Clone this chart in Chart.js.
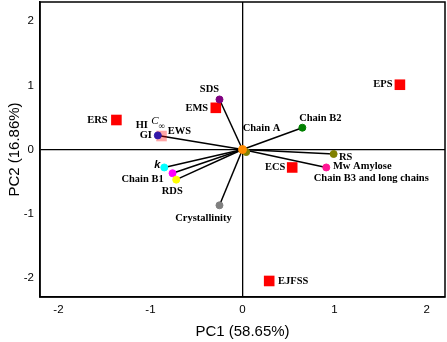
<!DOCTYPE html>
<html>
<head>
<meta charset="utf-8">
<script src="https://cdn.jsdelivr.net/npm/chart.js@4.4.1/dist/chart.umd.min.js"></script>
<style>
  body { margin: 0; background: #fff; }
  #pca { display: block; }
</style>
</head>
<body>
<canvas id="pca" width="447" height="342"></canvas>
<script>
// sample scores (squares)
const scoreNames = ['EPS', 'ERS', 'EMS', 'EWS', 'ECS', 'EJFSS'];
const scoreX = [1.71, -1.37, -0.29, -0.88, 0.54, 0.29];
const scoreY = [1.01, 0.46, 0.65, 0.21, -0.28, -2.05];

// variable loadings (circles, joined to origin)
const loadingNames = ['Chain A', 'SDS', 'GI', 'k', 'Chain B1', 'RDS', 'Crystallinity', 'Chain B2', 'RS', 'Mw Amylose'];
const loadingX = [0.04, -0.25, -0.92, -0.85, -0.76, -0.72, -0.25, 0.65, 0.99, 0.91];
const loadingY = [-0.04, 0.78, 0.22, -0.28, -0.37, -0.47, -0.87, 0.34, -0.07, -0.28];

const xTicks = [-2, -1, 0, 1, 2];
const yTicks = [-2, -1, 0, 1, 2];

// styles
const scoreColors = ['#ff0000', '#ff0000', '#ff0000', 'rgba(255,0,0,0.35)', '#ff0000', '#ff0000'];
const loadingColors = ['#808000', '#800080', '#3318a8', '#00ffff', '#ff00ff', '#ffff00', '#808080', '#008000', '#808000', '#ff1493'];

// label text, anchor name, pixel offset from anchor
const labelSpec = [
  ['EPS', 'EPS', -17, 0], ['ERS', 'ERS', -19, 0], ['EMS', 'EMS', -19, 0],
  ['EWS', 'EWS', 18, -5], ['ECS', 'ECS', -17, 0], ['EJFSS', 'EJFSS', 24, 0],
  ['SDS', 'SDS', -10, -10], ['GI', 'GI', -12, 0], ['HI', 'GI', -16, -10],
  ['Chain A', 'origin', 19, -21], ['Chain B2', 'Chain B2', 18, -9],
  ['RS', 'RS', 12, 3], ['Mw Amylose', 'Mw Amylose', 36, -1.5],
  ['Chain B3 and long chains', 'Mw Amylose', 45, 10.5],
  ['Chain B1', 'Chain B1', -30, 6], ['RDS', 'RDS', -4, 12],
  ['Crystallinity', 'Crystallinity', -16, 13]
];

const anchors = { origin: [0, 0] };
scoreNames.forEach((n, i) => anchors[n] = [scoreX[i], scoreY[i]]);
loadingNames.forEach((n, i) => anchors[n] = [loadingX[i], loadingY[i]]);

const lineSets = loadingNames.map((n, i) => ({
  type: 'line',
  data: [{ x: 0, y: 0 }, { x: loadingX[i], y: loadingY[i] }],
  borderColor: '#000',
  borderWidth: 1.5,
  pointRadius: 0,
  order: 5
}));

const boxAndLabels = {
  id: 'boxAndLabels',
  afterDatasetsDraw(chart) {
    const { ctx, chartArea: a, scales: { x, y } } = chart;
    ctx.save();
    ctx.strokeStyle = '#000';
    ctx.lineWidth = 1.5;
    ctx.strokeRect(a.left, a.top, a.right - a.left, a.bottom - a.top);

    ctx.fillStyle = '#000';
    ctx.textAlign = 'center';
    ctx.textBaseline = 'middle';
    ctx.font = "bold 10.5px 'Liberation Serif'";
    labelSpec.forEach(([txt, anc, dx, dy]) => {
      const p = anchors[anc];
      ctx.fillText(txt, x.getPixelForValue(p[0]) + dx, y.getPixelForValue(p[1]) + dy);
    });
    // C-infinity next to GI
    const gx = x.getPixelForValue(anchors.GI[0]);
    const gy = y.getPixelForValue(anchors.GI[1]);
    ctx.font = "italic 11px 'Liberation Serif'";
    ctx.fillText('C', gx - 3, gy - 14);
    ctx.font = "9px 'Liberation Serif'";
    ctx.fillText('\u221e', gx + 4, gy - 9);
    // k label
    const kx = x.getPixelForValue(anchors.k[0]);
    const ky = y.getPixelForValue(anchors.k[1]);
    ctx.font = "bold italic 11px 'Liberation Sans'";
    ctx.fillText('k', kx - 7, ky - 2);
    ctx.restore();
  }
};

new Chart(document.getElementById('pca'), {
  type: 'scatter',
  data: {
    datasets: [
      ...lineSets,
      {
        data: loadingX.map((v, i) => ({ x: v, y: loadingY[i] })),
        backgroundColor: loadingColors,
        borderColor: loadingColors,
        pointRadius: 3.5,
        order: 2
      },
      {
        data: [{ x: 0, y: 0 }],
        backgroundColor: '#ff8c00',
        borderColor: '#ff8c00',
        pointRadius: 4,
        order: 1
      },
      {
        data: scoreX.map((v, i) => ({ x: v, y: scoreY[i] })),
        backgroundColor: scoreColors,
        borderColor: scoreColors,
        pointStyle: 'rect',
        pointRadius: 7.5,
        borderWidth: 0,
        order: 3
      }
    ]
  },
  options: {
    responsive: false,
    animation: false,
    layout: { autoPadding: false, padding: { top: 2, right: 2, left: 0, bottom: 0 } },
    plugins: { legend: { display: false }, tooltip: { enabled: false } },
    scales: {
      x: {
        min: -2.2,
        max: 2.2,
        afterBuildTicks: s => { s.ticks = xTicks.map(v => ({ value: v })); },
        afterFit: s => { s.height = 45; s.paddingLeft = 0; s.paddingRight = 0; },
        grid: {
          drawTicks: false,
          color: c => c.tick && c.tick.value === 0 ? '#000' : 'rgba(0,0,0,0)',
          lineWidth: 1.3
        },
        border: { display: true, color: '#000', width: 1.5 },
        ticks: { padding: 6, color: '#000', font: { family: 'Arial', size: 11.5 } },
        title: {
          display: true,
          text: 'PC1 (58.65%)',
          color: '#000',
          font: { family: 'Arial', size: 15 },
          padding: { top: 0, bottom: 1 }
        }
      },
      y: {
        min: -2.3,
        max: 2.3,
        afterBuildTicks: s => { s.ticks = yTicks.map(v => ({ value: v })); },
        afterFit: s => { s.width = 40; s.paddingTop = 0; s.paddingBottom = 0; },
        grid: {
          drawTicks: false,
          color: c => c.tick && c.tick.value === 0 ? '#000' : 'rgba(0,0,0,0)',
          lineWidth: 1.3
        },
        border: { display: true, color: '#000', width: 1.5 },
        ticks: { padding: 6, color: '#000', font: { family: 'Arial', size: 11.5 } },
        title: {
          display: true,
          text: 'PC2 (16.86%)',
          color: '#000',
          font: { family: 'Arial', size: 15 },
          padding: { top: 6, bottom: 0 }
        }
      }
    }
  },
  plugins: [boxAndLabels]
});
</script>
</body>
</html>
